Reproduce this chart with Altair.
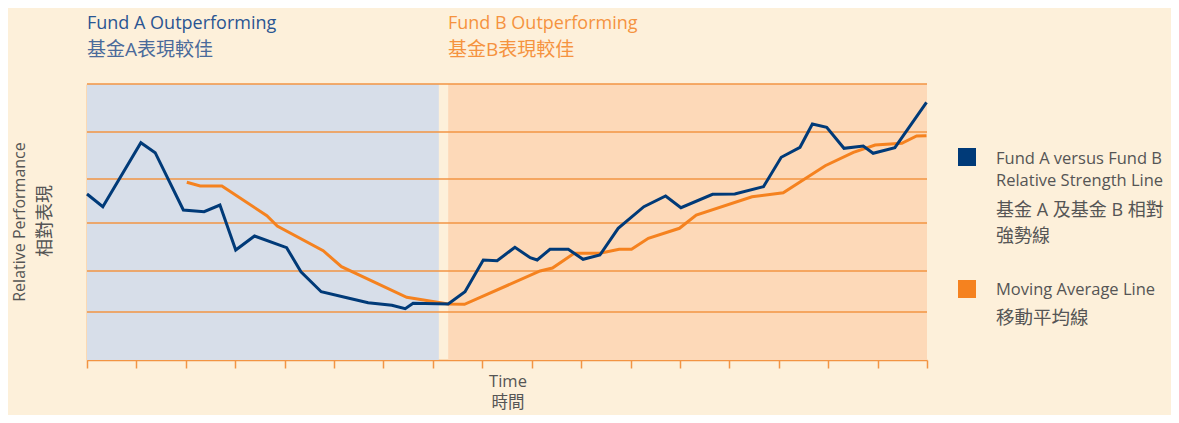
import altair as alt
import pandas as pd

# ---- data ----
# Relative strength line (Fund A vs Fund B)
rs_time = [0.0, 0.32, 1.09, 1.38, 1.95, 2.37, 2.69, 3.01, 3.39, 4.04, 4.33, 4.74, 5.26,
           5.69, 6.17, 6.44, 6.60, 7.31, 7.65, 8.02, 8.30, 8.66, 8.97, 9.11, 9.37, 9.74,
           10.04, 10.38, 10.75, 11.27, 11.71, 12.02, 12.66, 13.11, 13.69, 14.05, 14.43,
           14.68, 14.97, 15.32, 15.71, 15.91, 16.35, 16.99]
rs_value = [166, 153.3, 217.3, 207.3, 150, 148.3, 155, 110, 124, 112.3, 88.3, 68.3, 62.3,
            57.3, 54.7, 51.3, 56.7, 56, 68.3, 100, 99.3, 112.7, 102.3, 100, 110.7, 110.7,
            100.7, 105, 131.7, 153.3, 164, 152.3, 165.7, 166, 173.3, 202.7, 212.7,
            236, 232.7, 211.7, 214, 206.7, 212.3, 257.7]
# Moving average line
ma_time = [2.02, 2.29, 2.73, 3.64, 3.85, 4.78, 5.15, 6.47, 7.31, 7.64, 9.17, 9.42, 9.86,
           10.38, 10.77, 11.02, 11.36, 11.99, 12.33, 13.46, 14.09, 14.94, 15.51, 15.95,
           16.49, 16.79, 16.99]
ma_value = [177.7, 174, 174, 144.3, 134, 109.3, 93.3, 62.7, 56, 55.7, 89, 92, 106.7,
            106.7, 110.7, 110.7, 121.7, 131.7, 145, 163.3, 167.3, 194.3, 207.7, 215,
            216.7, 224, 224.3]
grid_levels = [48, 89, 137, 181, 228, 276]
tick_values = list(range(0, 18))
zone_start = [0, 7.31]
zone_end = [7.12, 17]
zone_name = ["Fund A Outperforming", "Fund B Outperforming"]

# ---- styles ----
BG = "#fdf0da"
NAVY = "#003a78"
ORANGE = "#f5821f"
GRID = "#f29443"
TXT = "#555555"
FONT = "'Open Sans', 'Noto Sans CJK TC', sans-serif"

X_DOM = [0, 17]
Y_DOM = [0, 276]

rs_df = pd.DataFrame({"t": rs_time, "v": rs_value, "s": "Relative Strength"})
ma_df = pd.DataFrame({"t": ma_time, "v": ma_value, "s": "Moving Average"})
grid_df = pd.DataFrame({"g": grid_levels})
zone_df = pd.DataFrame({"a": zone_start, "b": zone_end, "z": zone_name})
one = pd.DataFrame({"k": [0]})

xs = alt.Scale(domain=X_DOM, nice=False, zero=False)
ys = alt.Scale(domain=Y_DOM, nice=False, zero=False)

zones = alt.Chart(zone_df).mark_rect().encode(
    x=alt.X("a:Q", scale=xs,
            axis=alt.Axis(values=tick_values, labels=False, title=None, grid=False,
                          domainColor=GRID, domainWidth=1.5, tickColor=GRID,
                          tickSize=8, tickWidth=1.5)),
    x2="b:Q",
    y=alt.value(0),
    y2=alt.value(276),
    color=alt.Color("z:N", scale=alt.Scale(domain=zone_name, range=["#d7dee9", "#fdd9b8"]),
                    legend=None),
)

grid = alt.Chart(grid_df).mark_rule(color=GRID, strokeWidth=1.5).encode(
    y=alt.Y("g:Q", scale=ys,
            axis=alt.Axis(labels=False, ticks=False, title=None, grid=False,
                          domainColor=GRID, domainWidth=1.5)),
    x=alt.value(0),
    x2=alt.value(840),
)

ma_line = alt.Chart(ma_df).mark_line(color=ORANGE, strokeWidth=3).encode(
    x=alt.X("t:Q", scale=xs), y=alt.Y("v:Q", scale=ys)
)
rs_line = alt.Chart(rs_df).mark_line(color=NAVY, strokeWidth=3).encode(
    x=alt.X("t:Q", scale=xs), y=alt.Y("v:Q", scale=ys)
)


def label(text, x, y, color=TXT, size=16, align="left", angle=0, baseline="middle"):
    return alt.Chart(one).mark_text(
        text=text, color=color, fontSize=size, font=FONT, align=align,
        baseline=baseline, angle=angle
    ).encode(x=alt.value(x), y=alt.value(y))


def swatch(color, x, y):
    return alt.Chart(one).mark_rect(color=color).encode(
        x=alt.value(x), x2=alt.value(x + 18), y=alt.value(y), y2=alt.value(y + 18)
    )


texts = [
    label("Fund A Outperforming", 0, -60, color="#2a5592", size=18),
    label("基金A表現較佳", 0, -34, color="#4a6a9a", size=19),
    label("Fund B Outperforming", 361, -60, color="#f5933f", size=18),
    label("基金B表現較佳", 361, -34, color="#f5933f", size=19),
    label("Relative Performance", -67, 138, size=16, align="center", angle=270),
    label("相對表現", -41, 137, size=18, align="center", angle=270),
    label("Time", 421, 298, size=16.5, align="center"),
    label("時間", 421, 319, size=16.5, align="center"),
    swatch(NAVY, 871, 64),
    label("Fund A versus Fund B", 909, 75, size=16.5),
    label("Relative Strength Line", 909, 97, size=16.5),
    label("基金 A 及基金 B 相對", 909, 127, size=18),
    label("強勢線", 909, 153, size=18),
    swatch(ORANGE, 871, 196),
    label("Moving Average Line", 909, 206, size=16.5),
    label("移動平均線", 909, 234, size=18.5),
]

chart = alt.layer(zones, grid, ma_line, rs_line, *texts).properties(
    width=840,
    height=276,
    background=BG,
    padding={"left": 79, "top": 76, "right": 244, "bottom": 55},
    autosize=alt.AutoSizeParams(type="none"),
).configure_view(strokeWidth=0)

chart.save("out.html", embed_options={"renderer": "svg", "actions": False})
